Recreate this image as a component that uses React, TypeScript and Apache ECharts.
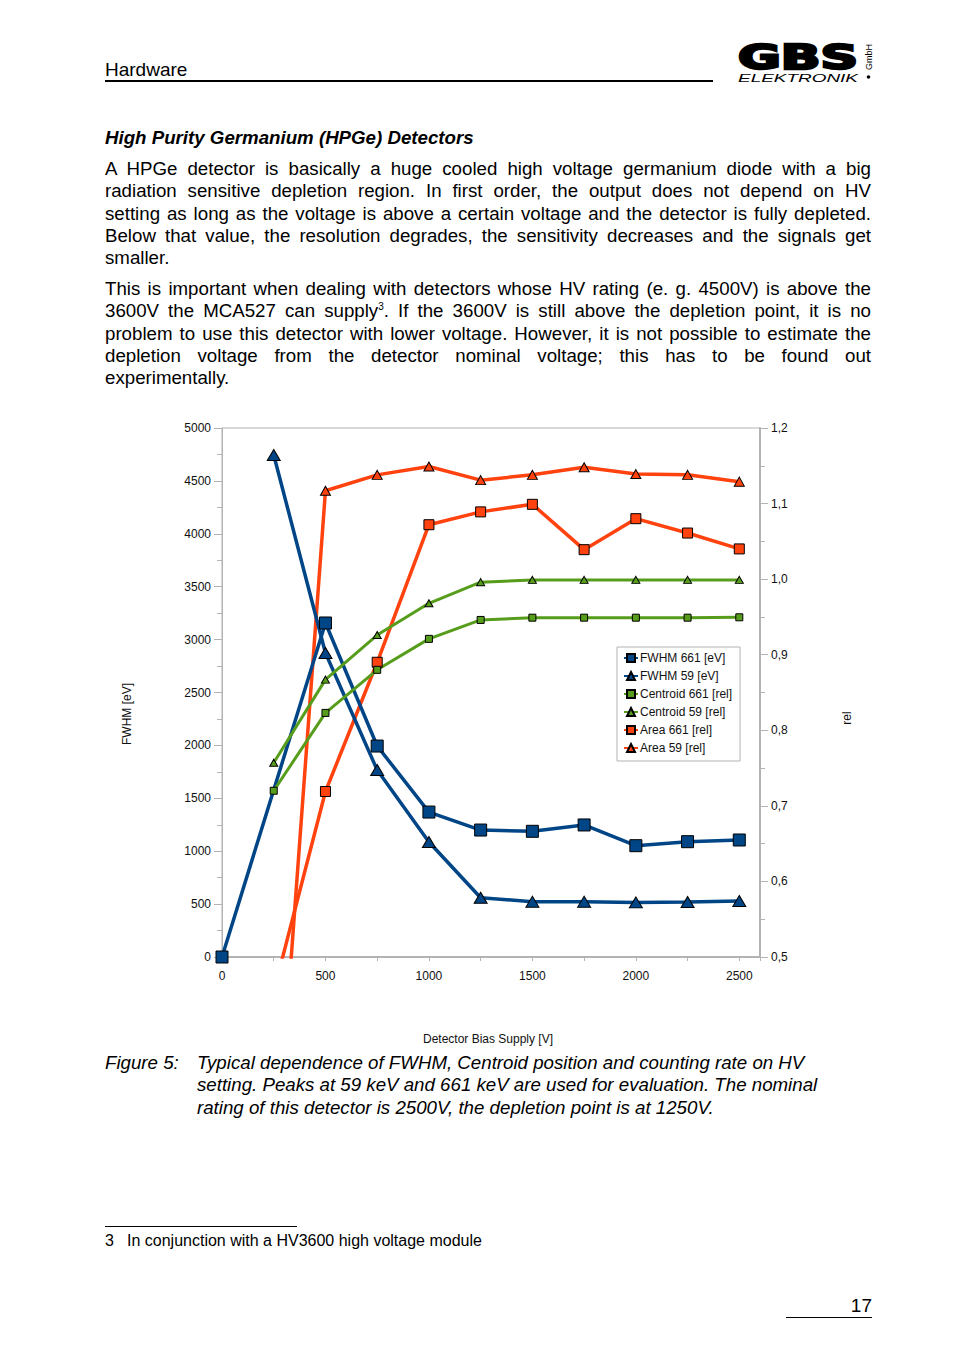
import React, { useEffect, useRef } from "react";
import * as echarts from "echarts";

// ---------- data ----------
const voltages = [0, 250, 500, 750, 1000, 1250, 1500, 1750, 2000, 2250, 2500];
const fwhm661 = [0, null, 3157, 1994, 1370, 1200, 1188, 1248, 1052, 1090, 1106];
const fwhm59 = [null, 4745, 2873, 1767, 1087, 560, 523, 523, 516, 520, 530];
const centroid661 = [null, 0.72, 0.823, 0.88, 0.921, 0.946, 0.949, 0.949, 0.949, 0.949, 0.9495];
const centroid59 = [null, 0.757, 0.867, 0.926, 0.968, 0.996, 0.999, 0.999, 0.999, 0.999, 0.999];
const area661 = [null, 0.454, 0.719, 0.89, 1.072, 1.089, 1.099, 1.039, 1.08, 1.061, 1.04];
const area59 = [null, 0.184, 1.117, 1.138, 1.149, 1.131, 1.138, 1.148, 1.139, 1.138, 1.129];

const legendOrder = [
  "FWHM 661 [eV]",
  "FWHM 59 [eV]",
  "Centroid 661 [rel]",
  "Centroid 59 [rel]",
  "Area 661 [rel]",
  "Area 59 [rel]",
];

const xAxisTitle = "Detector Bias Supply [V]";
const yLeftTitle = "FWHM [eV]";
const yRightTitle = "rel";

const para1 = [
  "A HPGe detector is basically a huge cooled high voltage germanium diode with a big",
  "radiation sensitive depletion region. In first order, the output does not depend on HV",
  "setting as long as the voltage is above a certain voltage and the detector is fully depleted.",
  "Below that value, the resolution degrades, the sensitivity decreases and the signals get",
  "smaller.",
];
const para2 = [
  "This is important when dealing with detectors whose HV rating (e. g. 4500V) is above the",
  "@SUP",
  "problem to use this detector with lower voltage. However, it is not possible to estimate the",
  "depletion voltage from the detector nominal voltage; this has to be found out",
  "experimentally.",
];
const caption = [
  "Typical dependence of FWHM, Centroid position and counting rate on HV",
  "setting. Peaks at 59 keV and 661 keV are used for evaluation. The nominal",
  "rating of this detector is 2500V, the depletion point is at 1250V.",
];

const FONT = "'Liberation Sans', Arial, sans-serif";
const BLUE = "#004586";
const ORANGE = "#ff420e";
const GREEN = "#579d1c";
const AXIS = "#b3b3b3";

function pairs(vals: (number | null)[]) {
  return voltages
    .map((v, i) => [v, vals[i]])
    .filter((p) => p[1] !== null);
}

function Chart() {
  const ref = useRef<HTMLDivElement>(null);
  useEffect(() => {
    if (!ref.current) return;
    const chart = echarts.init(ref.current, null, { renderer: "svg" });
    const mk = (
      name: string,
      vals: (number | null)[],
      axis: number,
      color: string,
      symbol: string,
      size: any,
      width: number
    ) => ({
      name,
      type: "line",
      yAxisIndex: axis,
      data: pairs(vals),
      symbol,
      symbolSize: size,
      showSymbol: true,
      showAllSymbol: true,
      clip: true,
      lineStyle: { color, width },
      itemStyle: { color, borderColor: "#000", borderWidth: 1 },
      emphasis: { disabled: true },
    });
    const labelStyle = { color: "#111", fontSize: 12, fontFamily: FONT };
    chart.setOption({
      animation: false,
      grid: {
        left: 222,
        top: 428,
        width: 538,
        height: 529,
        show: true,
        borderColor: AXIS,
        borderWidth: 1,
        backgroundColor: "transparent",
        containLabel: false,
      },
      xAxis: {
        type: "value",
        min: 0,
        max: 2600,
        interval: 250,
        axisLine: { show: true, lineStyle: { color: AXIS, width: 2 } },
        axisTick: { show: true, length: 4, lineStyle: { color: AXIS } },
        axisLabel: {
          ...labelStyle,
          margin: 13,
          formatter: (v: number) => (v % 500 === 0 && v <= 2500 ? String(v) : ""),
        },
        splitLine: { show: false },
      },
      yAxis: [
        {
          type: "value",
          position: "left",
          min: 0,
          max: 5000,
          interval: 500,
          axisLine: { show: true, lineStyle: { color: AXIS, width: 1 } },
          axisTick: { show: true, length: 8, lineStyle: { color: AXIS } },
          minorTick: { show: true, splitNumber: 2, length: 5, lineStyle: { color: AXIS } },
          axisLabel: { ...labelStyle, margin: 11, formatter: (v: number) => String(v) },
          splitLine: { show: false },
          minorSplitLine: { show: false },
        },
        {
          type: "value",
          position: "right",
          min: 0.5,
          max: 1.2,
          interval: 0.1,
          axisLine: { show: true, lineStyle: { color: AXIS, width: 2 } },
          axisTick: { show: true, length: 8, lineStyle: { color: AXIS } },
          minorTick: { show: true, splitNumber: 2, length: 5, lineStyle: { color: AXIS } },
          axisLabel: {
            ...labelStyle,
            margin: 11,
            formatter: (v: number) => v.toFixed(1).replace(".", ","),
          },
          splitLine: { show: false },
          minorSplitLine: { show: false },
        },
      ],
      legend: {
        show: true,
        orient: "vertical",
        left: 617,
        top: 647,
        data: legendOrder,
        itemWidth: 14,
        itemHeight: 10,
        itemGap: 6,
        padding: [5, 8, 7, 6],
        borderColor: AXIS,
        borderWidth: 1,
        backgroundColor: "#fff",
        textStyle: { color: "#111", fontSize: 12, fontFamily: FONT, padding: [0, 0, 0, -3] },
        selectedMode: false,
      },
      graphic: [
        {
          type: "text",
          x: 488,
          y: 1039,
          style: {
            text: xAxisTitle,
            fill: "#111",
            font: `12px ${FONT}`,
            textAlign: "center",
            textVerticalAlign: "middle",
            align: "center",
            verticalAlign: "middle",
          },
        },
        {
          type: "text",
          x: 127,
          y: 714,
          rotation: Math.PI / 2,
          style: {
            text: yLeftTitle,
            fill: "#111",
            font: `12px ${FONT}`,
            textAlign: "center",
            textVerticalAlign: "middle",
            align: "center",
            verticalAlign: "middle",
          },
        },
        {
          type: "text",
          x: 847,
          y: 718,
          rotation: Math.PI / 2,
          style: {
            text: yRightTitle,
            fill: "#111",
            font: `12px ${FONT}`,
            textAlign: "center",
            textVerticalAlign: "middle",
            align: "center",
            verticalAlign: "middle",
          },
        },
      ],
      series: [
        mk("Area 661 [rel]", area661, 1, ORANGE, "rect", 10, 3.5),
        mk("Area 59 [rel]", area59, 1, ORANGE, "triangle", [10, 9], 3.5),
        mk("FWHM 661 [eV]", fwhm661, 0, BLUE, "rect", 12, 3.5),
        mk("FWHM 59 [eV]", fwhm59, 0, BLUE, "triangle", [13, 11], 3.5),
        mk("Centroid 661 [rel]", centroid661, 1, GREEN, "rect", 7, 3),
        mk("Centroid 59 [rel]", centroid59, 1, GREEN, "triangle", [8, 7], 3),
      ],
    });
    return () => chart.dispose();
  }, []);
  return (
    <div
      ref={ref}
      style={{ position: "absolute", left: 0, top: 0, width: 954, height: 1351 }}
    />
  );
}

const LH = 22.3;
const FS = 18.7;

function Line({ top, text, justify, italic, bold, left = 105, width = 766 }: any) {
  return (
    <div
      style={{
        position: "absolute",
        left,
        top,
        width,
        height: LH,
        lineHeight: `${LH}px`,
        fontSize: FS,
        fontFamily: FONT,
        fontStyle: italic ? "italic" : "normal",
        fontWeight: bold ? "bold" : "normal",
        textAlign: justify ? "justify" : "left",
        textAlignLast: justify ? "justify" : "left",
        color: "#000",
      }}
    >
      {text}
    </div>
  );
}

function Logo() {
  return (
    <svg
      width={150}
      height={60}
      style={{ position: "absolute", left: 730, top: 35 }}
      viewBox="730 35 150 60"
    >
      <text
        x={738}
        y={69}
        fontFamily="'DejaVu Sans', sans-serif"
        fontWeight="bold"
        fontSize={33}
        textLength={120}
        lengthAdjust="spacingAndGlyphs"
        fill="#000"
        stroke="#000"
        strokeWidth={2.4}
      >
        GBS
      </text>
      <text
        x={738}
        y={81.5}
        fontFamily={FONT}
        fontStyle="italic"
        fontSize={11}
        textLength={120}
        lengthAdjust="spacingAndGlyphs"
        fill="#000"
      >
        ELEKTRONIK
      </text>
      <text
        x={0}
        y={0}
        transform="translate(871.5,70) rotate(-90)"
        fontFamily={FONT}
        fontSize={9}
        textLength={26}
        lengthAdjust="spacing"
        fill="#000"
      >
        GmbH
      </text>
      <circle cx={868.5} cy={77} r={1.8} fill="#000" />
    </svg>
  );
}

export default function App() {
  const p1Top = 158;
  const p2Top = 278;
  return (
    <div
      style={{
        position: "absolute",
        left: 0,
        top: 0,
        width: 954,
        height: 1351,
        background: "#fff",
        overflow: "hidden",
      }}
    >
      <Chart />
      {/* header */}
      <div
        style={{
          position: "absolute",
          left: 105,
          top: 59,
          fontSize: 19,
          lineHeight: "22px",
          fontFamily: FONT,
          color: "#000",
        }}
      >
        Hardware
      </div>
      <div
        style={{
          position: "absolute",
          left: 105,
          top: 80,
          width: 608,
          height: 2,
          background: "#000",
        }}
      />
      <Logo />
      {/* heading */}
      <Line top={127} text="High Purity Germanium (HPGe) Detectors" italic bold />
      {para1.map((t, i) => (
        <Line key={"a" + i} top={p1Top + i * LH} text={t} justify={i < para1.length - 1} />
      ))}
      {para2.map((t, i) => (
        <Line
          key={"b" + i}
          top={p2Top + i * LH}
          text={
            t === "@SUP" ? (
              <span>
                3600V the MCA527 can supply
                <sup style={{ fontSize: 10, lineHeight: 0 }}>3</sup>. If the 3600V is still above the
                depletion point, it is no
              </span>
            ) : (
              t
            )
          }
          justify={i < para2.length - 1}
        />
      ))}
      {/* caption */}
      <Line top={1052} text="Figure 5:" italic width={90} />
      {caption.map((t, i) => (
        <Line key={"c" + i} top={1052 + i * LH} left={197} width={680} text={t} italic />
      ))}
      {/* footnote */}
      <div
        style={{
          position: "absolute",
          left: 105,
          top: 1226,
          width: 192,
          height: 1,
          background: "#000",
        }}
      />
      <div
        style={{
          position: "absolute",
          left: 105,
          top: 1231,
          fontSize: 16,
          lineHeight: "20px",
          fontFamily: FONT,
          color: "#000",
        }}
      >
        3
      </div>
      <div
        style={{
          position: "absolute",
          left: 127,
          top: 1231,
          fontSize: 16,
          lineHeight: "20px",
          fontFamily: FONT,
          color: "#000",
          whiteSpace: "nowrap",
        }}
      >
        In conjunction with a HV3600 high voltage module
      </div>
      {/* page number */}
      <div
        style={{
          position: "absolute",
          left: 786,
          top: 1295,
          width: 86,
          textAlign: "right",
          fontSize: 19,
          lineHeight: "22px",
          fontFamily: FONT,
          color: "#000",
        }}
      >
        17
      </div>
      <div
        style={{
          position: "absolute",
          left: 786,
          top: 1317,
          width: 86,
          height: 1,
          background: "#000",
        }}
      />
    </div>
  );
}
